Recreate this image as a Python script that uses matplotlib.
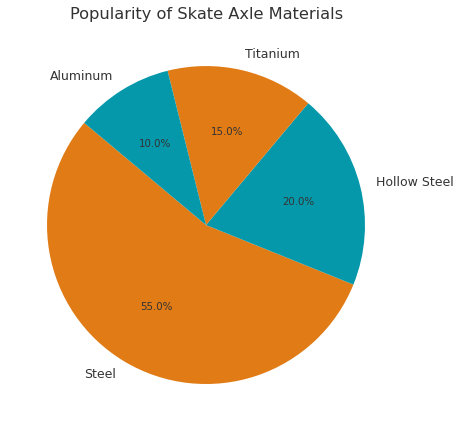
import matplotlib
matplotlib.use("Agg")
import matplotlib.pyplot as plt

materials = ["Steel", "Hollow Steel", "Titanium", "Aluminum"]
shares = [55, 20, 15, 10]
colors = ["#E07B16", "#0498AA", "#E07B16", "#0498AA"]
title = "Popularity of Skate Axle Materials"

fig = plt.figure(figsize=(4.59, 4.32), dpi=100)
ax = fig.add_axes([0.0158, 0.0191, 0.866, 0.920])
wedges, texts, autotexts = ax.pie(
    shares, labels=materials, colors=colors, autopct="%1.1f%%",
    startangle=140, labeldistance=1.1, pctdistance=0.6,
    textprops={"color": "#333333", "fontsize": 9},
)
for t in autotexts:
    t.set_fontsize(7.4)
ax.set_aspect("equal")
fig.text(0.45, 0.967, title, ha="center", va="center", fontsize=11.7, color="#333333")
fig.savefig("out.png", dpi=100)
